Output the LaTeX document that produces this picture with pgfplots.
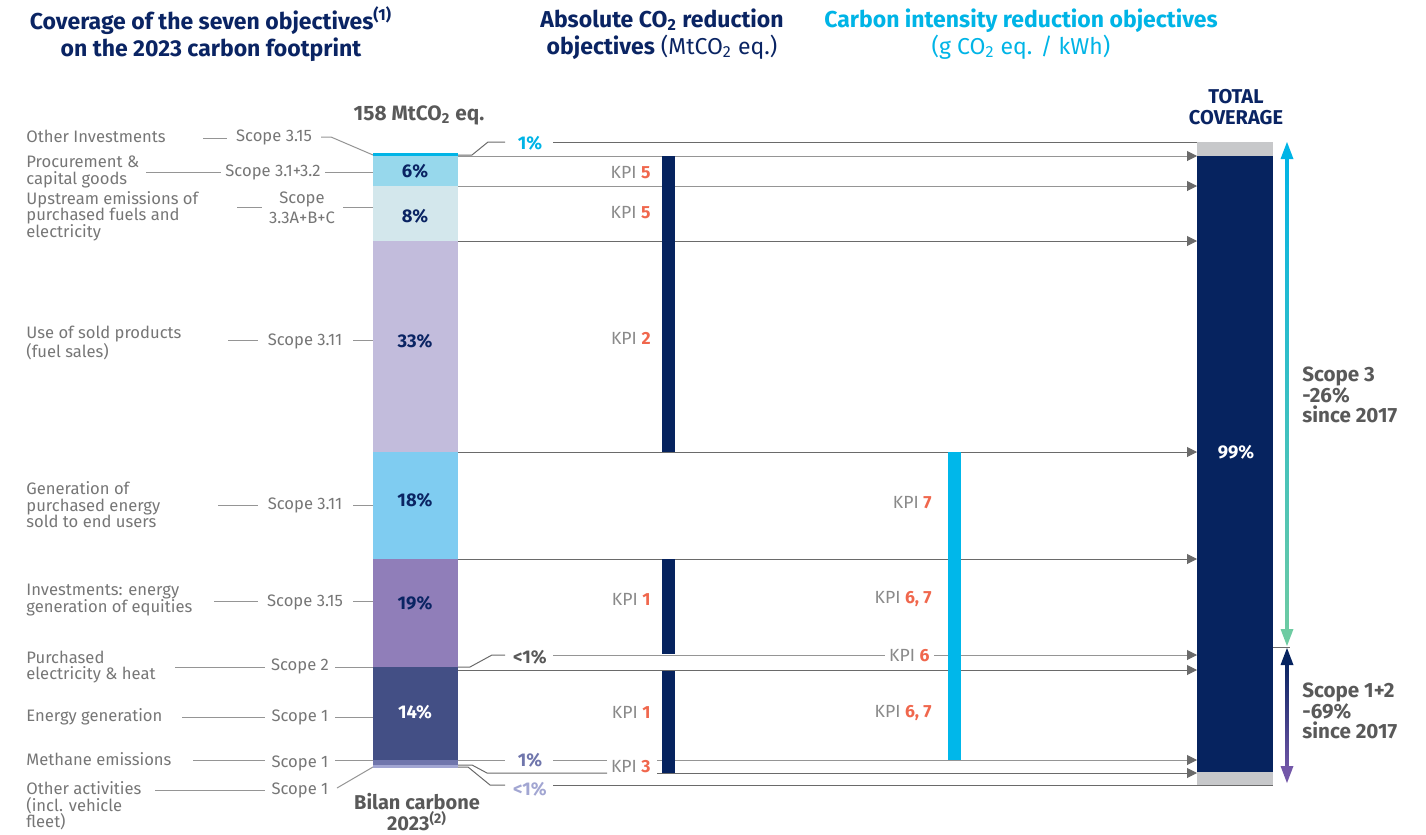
\documentclass[border=0pt]{standalone}
\usepackage{fontspec}
\setmainfont{Fira Sans}
\usepackage{pgfplots}
\pgfplotsset{compat=1.18}
\usetikzlibrary{arrows.meta}
\definecolor{navy}{HTML}{0A2463}
\definecolor{tcyan}{HTML}{00B4E6}
\definecolor{lbl}{HTML}{767676}
\definecolor{dgrey}{HTML}{595959}
\definecolor{kpig}{HTML}{8A8A8A}
\definecolor{kpio}{HTML}{F0674D}
\definecolor{ln}{HTML}{959595}
\definecolor{lnd}{HTML}{6A6A6A}
\definecolor{c6}{HTML}{97D8EC}
\definecolor{c8}{HTML}{D3E7EC}
\definecolor{c33}{HTML}{C2BCDC}
\definecolor{c18}{HTML}{7FCCF1}
\definecolor{c19}{HTML}{907EB9}
\definecolor{c14}{HTML}{434F85}
\definecolor{cme}{HTML}{7076AC}
\definecolor{cot}{HTML}{A2A6D2}
\definecolor{barnavy}{HTML}{06235F}
\definecolor{bargrey}{HTML}{C7C8CA}
\definecolor{kcyan}{HTML}{00B7EA}
\definecolor{agreen}{HTML}{6ECBA2}
\definecolor{apurple}{HTML}{7357A8}
\newcommand{\lf}{\fontsize{8.3}{8.3}\selectfont}
\newcommand{\kpi}[1]{{\color{kpig}KPI} {\color{kpio}\bfseries #1}}
\newcommand{\seg}[5]{\addplot[fill=#1, draw=none] coordinates {(#4,#2) (#5,#2) (#5,#3) (#4,#3)} -- cycle;}
\begin{document}
\begin{tikzpicture}
\begin{axis}[name=ax, width=713pt, height=417.5pt, scale only axis,
  xmin=0, xmax=1426, ymin=0, ymax=835, y dir=reverse, hide axis, clip=false, no markers]
% ---------- leader / flow lines ----------
\pgfplotsset{every axis plot/.append style={line width=0.6pt}}
\tikzset{arr/.style={-{Triangle[length=5pt,width=5pt,color=lnd]}}}
\addplot[lnd] coordinates {(458,155) (472,155) (488,142) (505,142)};
\addplot[lnd] coordinates {(553,142) (1273,142)};
\addplot[ln, arr] coordinates {(458,156) (1197,156)};
\addplot[ln, arr] coordinates {(458,186) (1197,186)};
\addplot[lnd, arr] coordinates {(458,241) (1197,241)};
\addplot[lnd, arr] coordinates {(458,452) (1197,452)};
\addplot[lnd, arr] coordinates {(458,559) (1197,559)};
\addplot[lnd] coordinates {(458,667) (470,667) (492,655) (505,655)};
\addplot[ln, arr] coordinates {(553,655) (1197,655)};
\addplot[lnd, arr] coordinates {(458,670) (1197,670)};
\addplot[ln] coordinates {(458,760) (505,760)};
\addplot[ln] coordinates {(553,760) (607,760)};
\addplot[ln, arr] coordinates {(657,760) (1197,760)};
\addplot[lnd] coordinates {(458,765) (472,765) (487,773) (607,773)};
\addplot[lnd, arr] coordinates {(657,773) (1197,773)};
\addplot[lnd] coordinates {(458,767) (468,767) (490,785) (505,785)};
\addplot[lnd] coordinates {(553,785) (1273,785)};
\addplot[lnd, line width=0.5pt] coordinates {(1273,647) (1290,647)};
% left leaders
\pgfplotsset{every axis plot/.append style={line width=0.5pt}}
\addplot[ln] coordinates {(203,138) (227,138)};
\addplot[ln] coordinates {(321,137) (331,137) (373,155)};
\addplot[ln] coordinates {(146,172) (221,172)};
\addplot[ln] coordinates {(325,172) (373,172)};
\addplot[ln] coordinates {(237,207) (262,207)};
\addplot[ln] coordinates {(343,207) (373,207)};
\addplot[ln] coordinates {(228,340) (258,340)};
\addplot[ln] coordinates {(353,340) (373,340)};
\addplot[ln] coordinates {(218,505) (258,505)};
\addplot[ln] coordinates {(353,505) (373,505)};
\addplot[ln] coordinates {(214,601) (258,601)};
\addplot[ln] coordinates {(353,601) (373,601)};
\addplot[ln] coordinates {(175,667) (265,667)};
\addplot[ln] coordinates {(335,667) (373,667)};
\addplot[ln] coordinates {(182,717) (265,717)};
\addplot[ln] coordinates {(335,717) (373,717)};
\addplot[ln] coordinates {(193,760) (265,760)};
\addplot[ln] coordinates {(335,760) (373,760)};
\addplot[ln] coordinates {(155,790) (265,790)};
\addplot[ln] coordinates {(337,788) (373,767)};
% ---------- stacked footprint bar (pixel extents) ----------
\seg{tcyan}{153}{156}{373}{458}
\seg{c6}{156}{186}{373}{458}
\seg{c8}{186}{241}{373}{458}
\seg{c33}{241}{452}{373}{458}
\seg{c18}{452}{559}{373}{458}
\seg{c19}{559}{667}{373}{458}
\seg{c14}{667}{760}{373}{458}
\seg{cme}{760}{765}{373}{458}
\seg{cot}{765}{768}{373}{458}
% ---------- KPI bars ----------
\seg{barnavy}{156}{452}{662}{675}
\seg{barnavy}{559}{654}{662}{675}
\seg{barnavy}{671}{773}{662}{675}
\seg{kcyan}{452}{760}{948}{961}
% ---------- total coverage ----------
\seg{bargrey}{142}{156}{1197}{1273}
\seg{barnavy}{156}{772}{1197}{1273}
\seg{bargrey}{772}{785}{1197}{1273}
% ---------- right arrows ----------
\shade[top color=tcyan, bottom color=agreen] (axis cs:1285.5,152) rectangle (axis cs:1288.5,636);
\fill[tcyan] (axis cs:1287,142) -- (axis cs:1280.5,159) -- (axis cs:1293.5,159) -- cycle;
\fill[agreen] (axis cs:1287,646) -- (axis cs:1280.5,629) -- (axis cs:1293.5,629) -- cycle;
\shade[top color=barnavy, bottom color=apurple] (axis cs:1285.5,660) rectangle (axis cs:1288.5,772);
\fill[barnavy] (axis cs:1287,648) -- (axis cs:1280.5,665) -- (axis cs:1293.5,665) -- cycle;
\fill[apurple] (axis cs:1287,783) -- (axis cs:1280.5,766) -- (axis cs:1293.5,766) -- cycle;
% ---------- titles ----------
\node[align=center, text=navy, font=\fontsize{11.5}{13.5}\selectfont\bfseries] at (axis cs:211,34)
  {Coverage of the seven objectives\textsuperscript{(1)}\\on the 2023 carbon footprint};
\node[align=center, text=navy, font=\fontsize{11.5}{13.5}\selectfont] at (axis cs:662,34)
  {\textbf{Absolute CO\textsubscript{2} reduction}\\\textbf{objectives} (MtCO\textsubscript{2} eq.)};
\node[align=center, text=tcyan, font=\fontsize{11.5}{13.5}\selectfont] at (axis cs:1021,34)
  {\textbf{Carbon intensity reduction objectives}\\(g CO\textsubscript{2} eq. / kWh)};
\node[text=dgrey, font=\fontsize{10.4}{12}\selectfont\bfseries] at (axis cs:419,115) {158 MtCO\textsubscript{2} eq.};
\node[align=center, text=dgrey, font=\fontsize{10}{9.5}\selectfont\bfseries] at (axis cs:417,812) {Bilan carbone\\2023\textsuperscript{(2)}};
\node[align=center, text=navy, font=\fontsize{10}{10.5}\selectfont\bfseries] at (axis cs:1236,107) {TOTAL\\COVERAGE};
% ---------- left labels ----------
\tikzset{ll/.style={anchor=west, align=left, text=lbl, font=\lf, inner sep=0pt}}
\node[ll] at (axis cs:26,136) {Other Investments};
\node[ll] at (axis cs:26,172) {Procurement \&\\capital goods};
\node[ll] at (axis cs:26,216) {Upstream emissions of\\purchased fuels and\\electricity};
\node[ll] at (axis cs:26,343) {Use of sold products\\(fuel sales)};
\node[ll] at (axis cs:26,505) {Generation of\\purchased energy\\sold to end users};
\node[ll] at (axis cs:26,600) {Investments: energy\\generation of equities};
\node[ll] at (axis cs:26,667) {Purchased\\electricity \& heat};
\node[ll] at (axis cs:26,717) {Energy generation};
\node[ll] at (axis cs:26,759) {Methane emissions};
\node[ll] at (axis cs:26,806) {Other activities\\(incl. vehicle\\fleet)};
\tikzset{sl/.style={align=center, text=lbl, font=\lf, inner sep=0pt}}
\node[sl] at (axis cs:274,137) {Scope 3.15};
\node[sl] at (axis cs:273,172) {Scope 3.1+3.2};
\node[sl, font=\fontsize{8.3}{10}\selectfont] at (axis cs:302,208) {Scope\\3.3A+B+C};
\node[sl] at (axis cs:305,341) {Scope 3.11};
\node[sl] at (axis cs:305,505) {Scope 3.11};
\node[sl] at (axis cs:305,602) {Scope 3.15};
\node[sl] at (axis cs:300,666) {Scope 2};
\node[sl] at (axis cs:300,717) {Scope 1};
\node[sl] at (axis cs:300,763) {Scope 1};
\node[sl] at (axis cs:300,790) {Scope 1};
% ---------- bar labels ----------
\tikzset{bl/.style={font=\fontsize{9.2}{10}\selectfont\bfseries}}
\node[bl, text=navy] at (axis cs:415,171) {6\%};
\node[bl, text=navy] at (axis cs:415,216) {8\%};
\node[bl, text=navy] at (axis cs:415,341) {33\%};
\node[bl, text=navy] at (axis cs:415,500) {18\%};
\node[bl, text=navy] at (axis cs:415,603) {19\%};
\node[bl, text=white] at (axis cs:415,712) {14\%};
\node[bl, text=white] at (axis cs:1236,452) {99\%};
\node[bl, text=tcyan] at (axis cs:530,143) {1\%};
\node[bl, text=dgrey] at (axis cs:530,657) {<1\%};
\node[bl, text=cme] at (axis cs:530,760) {1\%};
\node[bl, text=cot] at (axis cs:530,789) {<1\%};
% ---------- KPI labels ----------
\tikzset{kl/.style={anchor=east, inner sep=0pt, font=\fontsize{8.8}{10}\selectfont}}
\node[kl] at (axis cs:651,173) {\kpi{5}};
\node[kl] at (axis cs:651,213) {\kpi{5}};
\node[kl] at (axis cs:651,338) {\kpi{2}};
\node[kl] at (axis cs:651,599) {\kpi{1}};
\node[kl] at (axis cs:651,712) {\kpi{1}};
\node[kl] at (axis cs:651,767) {\kpi{3}};
\node[kl] at (axis cs:932,503) {\kpi{7}};
\node[kl] at (axis cs:932,599) {\kpi{6, 7}};
\node[kl, fill=white, inner sep=2pt] at (axis cs:934,656) {\kpi{6}};
\node[kl] at (axis cs:932,713) {\kpi{6, 7}};
% ---------- right notes ----------
\tikzset{rn/.style={anchor=west, align=left, inner sep=0pt, text=dgrey, font=\fontsize{10.3}{10.3}\selectfont\bfseries}}
\node[rn] at (axis cs:1302,395) {Scope 3\\-26\%\\since 2017};
\node[rn] at (axis cs:1302,711) {Scope 1+2\\-69\%\\since 2017};
\end{axis}
\pgfresetboundingbox
\path (ax.south west) rectangle (ax.north east);
\end{tikzpicture}
\end{document}
